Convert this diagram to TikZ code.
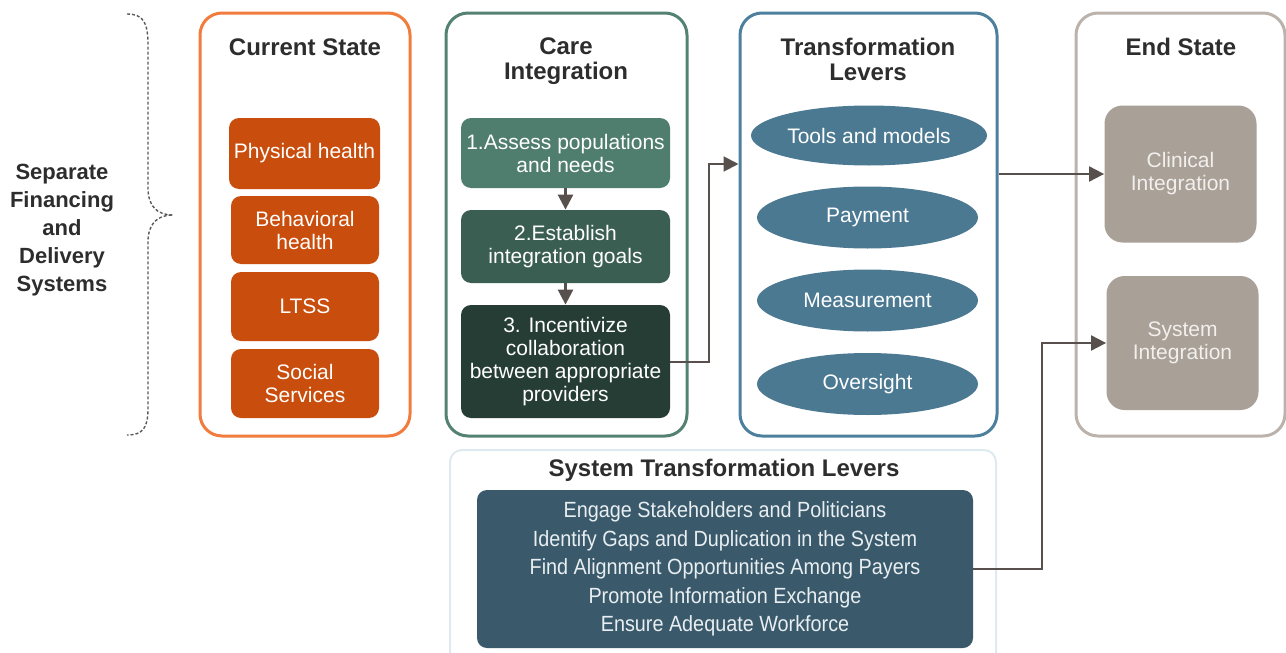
\documentclass[tikz,border=0pt]{standalone}
\usepackage{fontspec}
\setmainfont{Liberation Sans}
\newfontfamily\narrowfont[FakeStretch=0.9]{Liberation Sans}
\usetikzlibrary{calc,
shapes.geometric,
arrows.meta,
positioning}

\definecolor{curorange}{RGB}{241,124,62}
\definecolor{curfill}{RGB}{201,77,12}
\definecolor{careborder}{RGB}{84,130,114}
\definecolor{careA}{RGB}{79,125,110}
\definecolor{careB}{RGB}{59,94,82}
\definecolor{careC}{RGB}{38,61,54}
\definecolor{leverborder}{RGB}{77,128,156}
\definecolor{leverblue}{RGB}{75,121,146}
\definecolor{endborder}{RGB}{186,178,171}
\definecolor{endfill}{RGB}{169,160,152}
\definecolor{endtext}{RGB}{242,239,236}
\definecolor{stlborder}{RGB}{222,234,240}
\definecolor{stlfill}{RGB}{58,90,107}
\definecolor{stltext}{RGB}{232,238,241}
\definecolor{arrowgray}{RGB}{88,80,76}
\definecolor{headgray}{RGB}{45,45,45}
\definecolor{bracegray}{RGB}{90,90,90}

\begin{document}
\begin{tikzpicture} [x=0.5pt, y=-0.5pt,
    >={Triangle[length=7.5pt, width=7.5pt]},
    every node/.style={font={\fontsize{10.5}{11.5}\selectfont}, align=center},
    panel/.style={rectangle, rounded corners=11pt, line width=1.5pt,
        fill=white, inner sep=0pt},
    item node/.style={rectangle, rounded corners=5pt, text=white, inner sep=0pt},
    lever node/.style={ellipse, fill=leverblue, text=white, inner sep=0pt},
    end node/.style={rectangle, rounded corners=9pt, fill=endfill, text=endtext,
        inner sep=0pt, minimum width=76pt},
    head/.style={font={\fontsize{12}{12.5}\selectfont\bfseries}, text=headgray},
    flow/.style={->, draw=arrowgray, line width=1pt}
  ]

  \useasboundingbox (0,0) rectangle (1286,653);

  % dashed brace and its label
  \draw [bracegray, line width=0.7pt, dash pattern=on 1.5pt off 1pt]
    (127,14) .. controls (143,14) and (148,22) .. (148,45) -- (148,188)
    .. controls (148,205) and (156,215) .. (173,215)
    .. controls (156,215) and (148,225) .. (148,242) -- (148,408)
    .. controls (148,428) and (143,435) .. (127,435);
  \node [font={\fontsize{11}{14}\selectfont\bfseries},
    text=headgray
  ] (separate) at (62,230) {Separate\\Financing\\and\\Delivery\\Systems};

  % current state
  \node [panel,
    draw = curorange,
    minimum width = 105pt,
    minimum height = 211.5pt
  ] (cur) at (305,224.5) {};
  \node [head] (curtitle) at (305,47) {Current State};

  \node [item node, fill=curfill, minimum width=75.5pt, minimum height=35.5pt]
    (phys) at (304.5,153.5) {Physical health};
  \node [item node, fill=curfill, minimum width=74pt, minimum height=34pt]
    (behav) at (305,230) {Behavioral\\health};
  \node [item node, fill=curfill, minimum width=74pt, minimum height=34.5pt]
    (ltss) at (305,306.5) {LTSS};
  \node [item node, fill=curfill, minimum width=74pt, minimum height=34.5pt]
    (social) at (305,383.5) {Social\\Services};

  % care integration
  \node [panel,
    draw = careborder,
    minimum width = 120.5pt,
    minimum height = 211.5pt
  ] (care) at (566.5,224.5) {};
  \node [head] (caretitle) at (566,61) {Care\\Integration};

  \node [item node, fill=careA, minimum width=104.5pt, minimum height=35pt]
    (assess) at (565.5,153) {1.Assess populations\\and needs};
  \node [item node, fill=careB, minimum width=104.5pt, minimum height=36.5pt]
    (goals) at (565.5,246.5) {2.Establish\\integration goals};
  \node [item node, fill=careC, minimum width=104.5pt, minimum height=56.5pt]
    (incent) at (565.5,361.5) {3. Incentivize\\collaboration\\between appropriate\\providers};

  \draw [flow, line width=1.3pt] (assess) -- (goals);
  \draw [flow, line width=1.3pt] (goals) -- (incent);

  % transformation levers
  \node [panel,
    draw = leverborder,
    minimum width = 128.5pt,
    minimum height = 211.5pt
  ] (lever) at (868.5,224.5) {};
  \node [head] (levertitle) at (868,59) {Transformation\\Levers};

  \node [lever node, minimum width=118pt, minimum height=30pt]
    (tools) at (869,135.5) {Tools and models};
  \node [lever node, minimum width=110.5pt, minimum height=31pt]
    (payment) at (867.5,217.5) {Payment};
  \node [lever node, minimum width=110.5pt, minimum height=31pt]
    (measure) at (867.5,300.5) {Measurement};
  \node [lever node, minimum width=110.5pt, minimum height=31pt]
    (oversight) at (867.5,384) {Oversight};

  % end state
  \node [panel,
    draw = endborder,
    minimum width = 104.5pt,
    minimum height = 211.5pt
  ] (endst) at (1180.5,224.5) {};
  \node [head] (endtitle) at (1181,47) {End State};

  \node [end node, minimum height=68.5pt] (clin) at (1180.5,174) {Clinical\\Integration};
  \node [end node, minimum height=67pt] (sysint) at (1182.5,343) {System\\Integration};

  % system transformation levers
  \node [panel,
    draw = stlborder,
    line width = 1pt,
    rounded corners = 6pt,
    minimum width = 273pt,
    minimum height = 110pt
  ] (stlpanel) at (723,560) {};
  \node [head] (stltitle) at (724,470) {System Transformation Levers};

  \node [item node,
    fill = stlfill,
    text = stltext,
    minimum width = 248pt,
    minimum height = 79pt,
    font = {\narrowfont\fontsize{11}{14.25}\selectfont}
  ] (stl) at (725,569) {Engage Stakeholders and Politicians\\
    Identify Gaps and Duplication in the System\\
    Find Alignment Opportunities Among Payers\\
    Promote Information Exchange\\
    Ensure Adequate Workforce};

  % connectors between panels
  \coordinate (bend1) at (709,164);
  \coordinate (bend2) at (1042,343);
  \draw [flow] (incent.east) -| (bend1) -- (bend1 -| lever.west);
  \draw [flow] (clin.west -| lever.east) -- (clin.west);
  \draw [flow] (stl.east) -| (bend2) -- (sysint.west);

\end{tikzpicture}
\end{document}
